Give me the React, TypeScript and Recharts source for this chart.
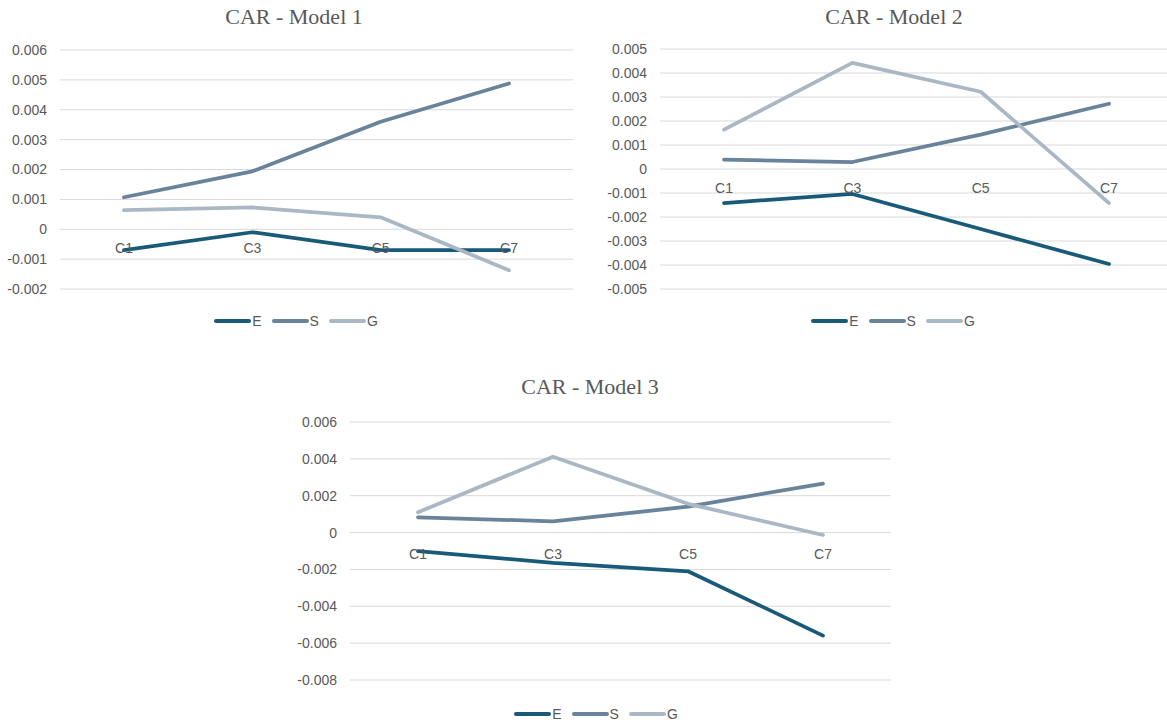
import React from 'react';
import { LineChart, Line, XAxis, YAxis, CartesianGrid, Legend, LabelList } from 'recharts';

// Event windows on the category axis
const categories = ['C1', 'C3', 'C5', 'C7'];

// Model 1 cumulative abnormal returns
const model1E = [-0.0007, -0.0001, -0.0007, -0.0007];
const model1S = [0.00107, 0.00194, 0.0036, 0.00488];
const model1G = [0.00064, 0.00073, 0.0004, -0.00137];

// Model 2 cumulative abnormal returns
const model2E = [-0.00142, -0.00104, -0.0025, -0.00396];
const model2S = [0.00039, 0.00029, 0.00143, 0.00272];
const model2G = [0.00164, 0.00442, 0.00322, -0.00142];

// Model 3 cumulative abnormal returns
const model3E = [-0.00101, -0.00164, -0.0021, -0.00559];
const model3S = [0.00083, 0.00061, 0.00141, 0.00266];
const model3G = [0.0011, 0.00412, 0.00156, -0.00013];

// Value-axis ticks
const model1Ticks = [-0.002, -0.001, 0, 0.001, 0.002, 0.003, 0.004, 0.005, 0.006];
const model2Ticks = [-0.005, -0.004, -0.003, -0.002, -0.001, 0, 0.001, 0.002, 0.003, 0.004, 0.005];
const model3Ticks = [-0.008, -0.006, -0.004, -0.002, 0, 0.002, 0.004, 0.006];

const seriesNames = ['E', 'S', 'G'];
const seriesColors: Record<string, string> = {
  E: '#195a79',
  S: '#68839a',
  G: '#a9b8c4',
};

const TEXT = '#595959';
const GRID = '#d9d9d9';
const SANS = '"Liberation Sans", Arial, sans-serif';
const SERIF = '"Liberation Serif", "Times New Roman", serif';

const buildRows = (e: number[], s: number[], g: number[]) =>
  categories.map((cat, i) => ({ cat, E: e[i], S: s[i], G: g[i], axisLevel: 0 }));

const formatTick = (v: number) => (v === 0 ? '0' : v.toFixed(3));

type PanelProps = {
  title: string;
  rows: ReturnType<typeof buildRows>;
  ticks: number[];
  left: number;
  top: number;
  width: number;
  height: number;
  margin: { top: number; right: number; bottom: number; left: number };
  pointPad: number;
  labelOffset: number;
  legendLeft: number;
  legendHeight: number;
  titleCenter: number;
  titleTop: number;
};

const LegendRow = ({ height }: { height: number }) => (
  <div
    style={{
      height,
      display: 'flex',
      alignItems: 'flex-end',
      justifyContent: 'center',
    }}
  >
    <div style={{ display: 'flex', alignItems: 'center', height: 20 }}>
      {seriesNames.map((name, i) => (
        <div
          key={name}
          style={{ display: 'flex', alignItems: 'center', marginLeft: i === 0 ? 0 : 10 }}
        >
          <svg width={37} height={6} style={{ display: 'block' }}>
            <line
              x1={2}
              y1={3}
              x2={35}
              y2={3}
              stroke={seriesColors[name]}
              strokeWidth={4}
              strokeLinecap="round"
            />
          </svg>
          <span
            style={{
              fontFamily: SANS,
              fontSize: 14,
              color: TEXT,
              marginLeft: 1,
              lineHeight: '20px',
            }}
          >
            {name}
          </span>
        </div>
      ))}
    </div>
  </div>
);

const Panel = (p: PanelProps) => {
  const [lo, hi] = [p.ticks[0], p.ticks[p.ticks.length - 1]];
  return (
    <div style={{ position: 'absolute', left: p.left, top: p.top, width: p.width, height: p.height }}>
      <div
        style={{
          position: 'absolute',
          left: p.titleCenter - 150,
          top: p.titleTop,
          width: 300,
          textAlign: 'center',
          fontFamily: SERIF,
          fontSize: 22,
          lineHeight: '22px',
          color: TEXT,
          whiteSpace: 'nowrap',
        }}
      >
        {p.title}
      </div>
      <LineChart width={p.width} height={p.height} data={p.rows} margin={p.margin}>
        <CartesianGrid vertical={false} stroke={GRID} strokeWidth={1} />
        <XAxis
          dataKey="cat"
          type="category"
          hide
          padding={{ left: p.pointPad, right: p.pointPad }}
        />
        <YAxis
          type="number"
          domain={[lo, hi]}
          ticks={p.ticks}
          interval={0}
          width={60}
          axisLine={false}
          tickLine={false}
          tickSize={0}
          tickMargin={13}
          tickFormatter={formatTick}
          tick={{ fill: TEXT, fontSize: 14, fontFamily: SANS }}
        />
        <Line
          dataKey="axisLevel"
          stroke="none"
          dot={false}
          activeDot={false}
          legendType="none"
          isAnimationActive={false}
        >
          <LabelList
            dataKey="cat"
            position="bottom"
            offset={p.labelOffset}
            fill={TEXT}
            fontSize={14}
            fontFamily={SANS}
          />
        </Line>
        {seriesNames.map((name) => (
          <Line
            key={name}
            dataKey={name}
            type="linear"
            stroke={seriesColors[name]}
            strokeWidth={3.75}
            strokeLinecap="round"
            strokeLinejoin="round"
            dot={false}
            activeDot={false}
            isAnimationActive={false}
          />
        ))}
        <Legend
          verticalAlign="bottom"
          content={() => <LegendRow height={p.legendHeight} />}
          wrapperStyle={{ left: p.legendLeft, width: 200 }}
        />
      </LineChart>
    </div>
  );
};

export default function App() {
  return (
    <div
      style={{
        position: 'fixed',
        left: 0,
        top: 0,
        width: 1167,
        height: 724,
        overflow: 'hidden',
        background: '#ffffff',
      }}
    >
      <Panel
        title="CAR - Model 1"
        rows={buildRows(model1E, model1S, model1G)}
        ticks={model1Ticks}
        left={0}
        top={0}
        width={590}
        height={340}
        margin={{ top: 50, right: 17, bottom: 9, left: 0 }}
        pointPad={64}
        labelOffset={14}
        legendLeft={196}
        legendHeight={42}
        titleCenter={294}
        titleTop={6}
      />
      <Panel
        title="CAR - Model 2"
        rows={buildRows(model2E, model2S, model2G)}
        ticks={model2Ticks}
        left={600}
        top={0}
        width={580}
        height={340}
        margin={{ top: 49, right: 7, bottom: 9, left: 0 }}
        pointPad={64}
        labelOffset={14}
        legendLeft={193}
        legendHeight={42}
        titleCenter={294}
        titleTop={6}
      />
      <Panel
        title="CAR - Model 3"
        rows={buildRows(model3E, model3S, model3G)}
        ticks={model3Ticks}
        left={290}
        top={360}
        width={610}
        height={364}
        margin={{ top: 62, right: 9, bottom: 0, left: 0 }}
        pointPad={68}
        labelOffset={16}
        legendLeft={206}
        legendHeight={44}
        titleCenter={300}
        titleTop={16}
      />
    </div>
  );
}
